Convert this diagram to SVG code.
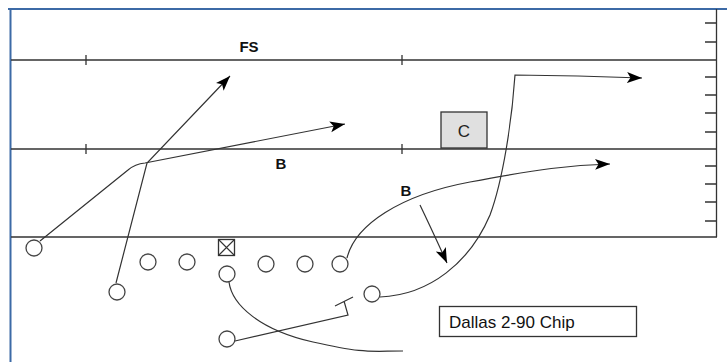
<svg xmlns="http://www.w3.org/2000/svg" width="727" height="362" viewBox="0 0 727 362">
<style>
.ln{stroke:#333;stroke-width:1.3;fill:none}
.rt{stroke:#333;stroke-width:1.2;fill:none}
.pl{stroke:#444;stroke-width:1.3;fill:#fff}
.lb{font-family:"Liberation Sans",Arial,sans-serif;font-weight:bold;font-size:15px;fill:#111;text-anchor:middle}
</style>
<defs>
<marker id="ah" markerUnits="userSpaceOnUse" markerWidth="18" markerHeight="12" refX="15" refY="5.5" orient="auto">
<path d="M0,0 L15,5.5 L0,11 L3.5,5.5 z" fill="#000"/>
</marker>
</defs>
<rect width="727" height="362" fill="#fff"/>
<g id="field">
<path d="M8,9 H727 M10.5,9 V362" stroke="#3c6aa6" stroke-width="2" fill="none"/>
<path class="ln" d="M11,60 H717 M11,149 H717 M11,237 H717 M716.5,9 V237"/>
<path class="ln" d="M86,55 V65 M402,55 V65 M86,144 V154 M402,144 V154"/>
<path class="ln" d="M705,23 H716 M705,42 H716 M705,77 H716 M705,95 H716 M705,113 H716 M705,132 H716 M705,166 H716 M705,184 H716 M705,202 H716 M705,221 H716"/>
</g>
<g id="labels">
<text class="lb" x="249" y="52">FS</text>
<text class="lb" x="281" y="169">B</text>
<text class="lb" x="406" y="196">B</text>
</g>
<g id="defender-c">
<rect x="441" y="112" width="46" height="36" fill="#e0e0e0" stroke="#333" stroke-width="1.3"/>
<text x="464" y="137" font-family="'Liberation Sans',Arial,sans-serif" font-size="17" fill="#222" text-anchor="middle">C</text>
</g>
<g id="connectors">
<path class="rt" d="M40,241 L128,170 Q135,164 145,163 L345,124" marker-end="url(#ah)"/>
<path class="rt" d="M116,283 L147,163 L230,76" marker-end="url(#ah)"/>
<path class="rt" d="M347,258 C355,225 400,195 470,182 S570,165 610,164" marker-end="url(#ah)"/>
<path class="rt" d="M380,297 C430,295 470,262 490,215 C503,180 512,120 515,75 L578,76 L642,78" marker-end="url(#ah)"/>
<path class="rt" d="M420,205 Q432,230 447,263" marker-end="url(#ah)"/>
<path class="rt" d="M229,282 C232,305 260,330 313,342 S370,351 403,351"/>
<path class="rt" d="M235,341 L348,315 L344,301 M335,306 L353,297"/>
</g>
<g id="p1"><circle class="pl" cx="34" cy="248" r="8"/></g>
<g id="p2"><circle class="pl" cx="148" cy="262" r="8"/></g>
<g id="p3"><circle class="pl" cx="187" cy="262" r="8"/></g>
<g id="center"><rect x="218.5" y="239.5" width="16" height="16" fill="#fff" stroke="#333" stroke-width="1.3"/><path d="M218.5,239.5 L234.5,255.5 M234.5,239.5 L218.5,255.5" stroke="#333" stroke-width="1.1"/></g>
<g id="qb"><circle class="pl" cx="227" cy="274" r="8"/></g>
<g id="p5"><circle class="pl" cx="266" cy="264" r="8"/></g>
<g id="p6"><circle class="pl" cx="305" cy="264" r="8"/></g>
<g id="p7"><circle class="pl" cx="340" cy="264" r="8"/></g>
<g id="p8"><circle class="pl" cx="117" cy="292" r="8"/></g>
<g id="p9"><circle class="pl" cx="372" cy="294" r="8"/></g>
<g id="rb"><circle class="pl" cx="227" cy="339" r="8"/></g>
<g id="title">
<rect x="439.5" y="306.5" width="197" height="30" fill="#fff" stroke="#333" stroke-width="1.3"/>
<text x="449" y="328" font-family="'Liberation Sans',Arial,sans-serif" font-size="17" fill="#111">Dallas 2-90 Chip</text>
</g>
</svg>
